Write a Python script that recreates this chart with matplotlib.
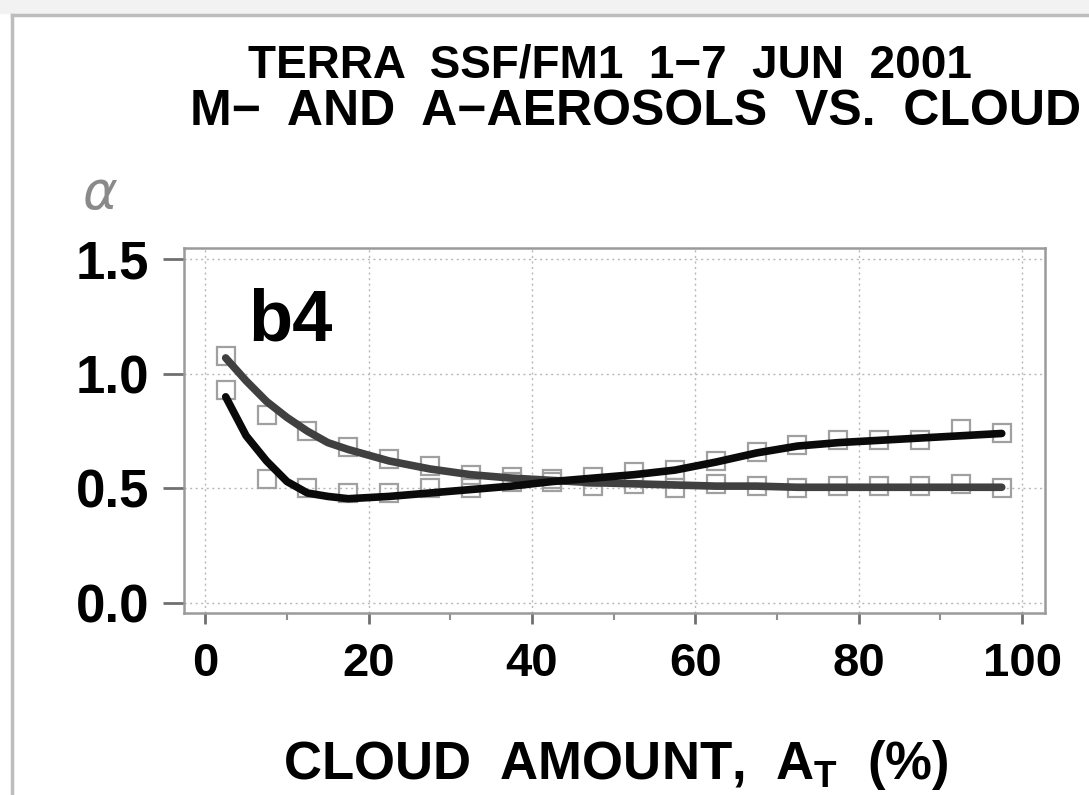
import numpy as np
import matplotlib
matplotlib.use('Agg')
import matplotlib.pyplot as plt
from matplotlib.lines import Line2D
from matplotlib.patches import Rectangle

plt.rcParams['font.family'] = ['Liberation Sans', 'DejaVu Sans']
plt.rcParams['mathtext.fontset'] = 'custom'
plt.rcParams['mathtext.bf'] = 'Liberation Sans:bold'
plt.rcParams['mathtext.rm'] = 'Liberation Sans:bold'

# cloud amount bins (%)
cloud_bins = [2.5, 7.5, 12.5, 17.5, 22.5, 27.5, 32.5, 37.5, 42.5, 47.5,
              52.5, 57.5, 62.5, 67.5, 72.5, 77.5, 82.5, 87.5, 92.5, 97.5]

# binned alpha values (open squares)
alpha_m = [1.08, 0.82, 0.75, 0.68, 0.63, 0.60, 0.56, 0.55, 0.53, 0.51,
           0.52, 0.50, 0.52, 0.51, 0.50, 0.51, 0.51, 0.51, 0.52, 0.50]
alpha_a = [0.93, 0.54, 0.50, 0.48, 0.48, 0.50, 0.50, 0.53, 0.54, 0.55,
           0.57, 0.58, 0.62, 0.66, 0.69, 0.71, 0.71, 0.71, 0.76, 0.74]

# fitted curves
fit_x = [2.5, 5, 7.5, 10, 12.5, 15, 17.5, 22.5, 27.5, 32.5, 37.5, 42.5,
         47.5, 52.5, 57.5, 62.5, 67.5, 72.5, 77.5, 82.5, 87.5, 92.5, 97.5]
fit_m = [1.07, 0.97, 0.88, 0.81, 0.75, 0.70, 0.67, 0.62, 0.585, 0.56, 0.545, 0.535,
         0.525, 0.52, 0.515, 0.51, 0.51, 0.505, 0.505, 0.505, 0.505, 0.505, 0.505]
fit_a = [0.90, 0.73, 0.62, 0.53, 0.48, 0.465, 0.455, 0.465, 0.48, 0.495, 0.51, 0.53,
         0.545, 0.56, 0.58, 0.615, 0.655, 0.685, 0.70, 0.71, 0.72, 0.73, 0.74]

xticks = [0, 20, 40, 60, 80, 100]
yticks = [0.0, 0.5, 1.0, 1.5]

fig = plt.figure(figsize=(10.89, 7.95), dpi=100)
ax = fig.add_axes([0.169, 0.229, 0.7906, 0.459])

# outer panel frame
fig.add_artist(Rectangle((0, 1 - 13 / 795), 1, 13 / 795, transform=fig.transFigure,
                         color='#f2f2f2', zorder=0))
fig.add_artist(Line2D([12 / 1089, 1], [1 - 15 / 795, 1 - 15 / 795],
                      transform=fig.transFigure, color='#bdbdbd', lw=2.5))
fig.add_artist(Line2D([12 / 1089, 12 / 1089], [0, 1 - 15 / 795],
                      transform=fig.transFigure, color='#bdbdbd', lw=2.5))

ax.plot(cloud_bins, alpha_m, 's', ms=13, mfc='none', mec='#a0a0a0', mew=1.6, zorder=2)
ax.plot(cloud_bins, alpha_a, 's', ms=13, mfc='none', mec='#a0a0a0', mew=1.6, zorder=2)
ax.plot(fit_x, fit_m, color='#404040', lw=5.5, solid_capstyle='round', zorder=3)
ax.plot(fit_x, fit_a, color='#0a0a0a', lw=5.5, solid_capstyle='round', zorder=4)

ax.set_xlim(-2.6, 102.8)
ax.set_ylim(-0.044, 1.55)
ax.set_xticks(xticks)
ax.set_xticks([10, 30, 50, 70, 90], minor=True)
ax.set_yticks(yticks)
ax.set_yticklabels(['%.1f' % v for v in yticks])
ax.grid(True, which='major', color='#b8b8b8', ls=(0, (1.5, 2.5)), lw=1)

for s in ax.spines.values():
    s.set_color('#9a9a9a')
    s.set_linewidth(1.8)

ax.tick_params(axis='y', which='major', length=15, width=2, color='#707070',
               labelsize=38, pad=10)
ax.tick_params(axis='x', which='major', length=8, width=2, color='#707070',
               labelsize=34, pad=13)
ax.tick_params(axis='x', which='minor', length=5, width=1.5, color='#909090')
for lab in ax.get_xticklabels() + ax.get_yticklabels():
    lab.set_fontweight('bold')

ax.text(5.3, 1.23, 'b4', fontsize=52, fontweight='bold', va='center', ha='left')

fig.text(248 / 1089, 1 - 66 / 795, 'TERRA  SSF/FM1  1\u22127  JUN  2001',
         fontsize=33, fontweight='bold', ha='left', va='center')
fig.text(190 / 1089, 1 - 112 / 795, 'M\u2212  AND  A\u2212AEROSOLS  VS.  CLOUD',
         fontsize=36, fontweight='bold', ha='left', va='center')
fig.text(100 / 1089, 1 - 195 / 795, r'$\alpha$', fontsize=38, color='#8a8a8a',
         ha='center', va='center')
fig.text(616 / 1089, 1 - 765 / 795, r'CLOUD  AMOUNT,  A$_{\mathbf{T}}$  (%)',
         fontsize=38, fontweight='bold', ha='center', va='center')

fig.savefig('out.png', dpi=100)
